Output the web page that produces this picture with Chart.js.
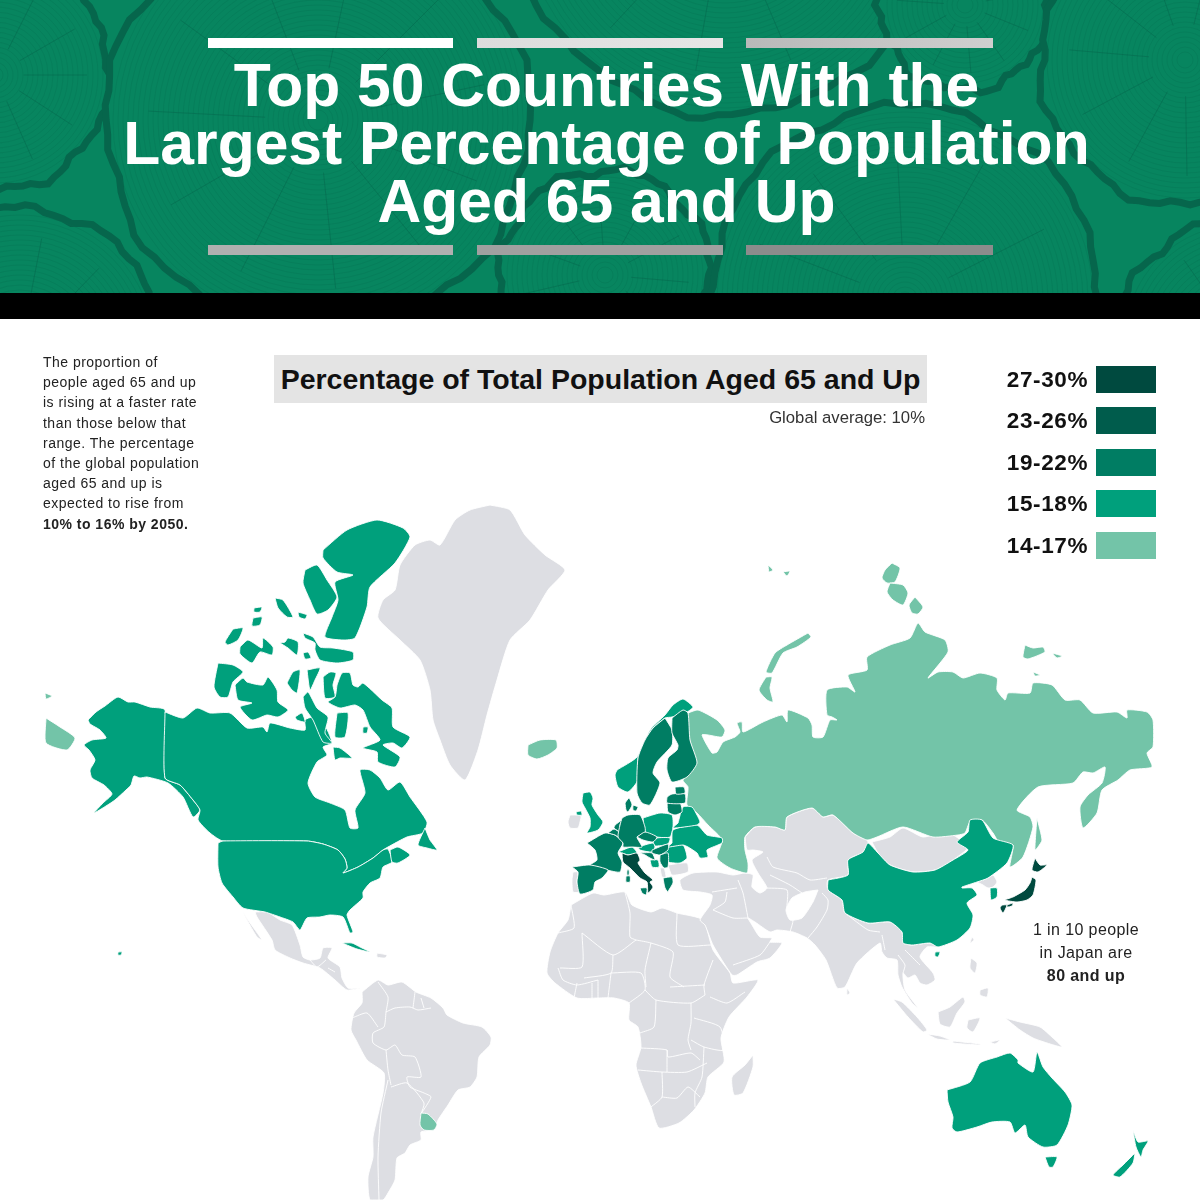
<!DOCTYPE html>
<html lang="en">
<head>
<meta charset="UTF-8">
<title>Top 50 Countries With the Largest Percentage of Population Aged 65 and Up</title>
<script src="https://cdn.jsdelivr.net/npm/chart.js@4"></script>
<style>
  * { margin: 0; padding: 0; box-sizing: border-box; }
  html, body { width: 1200px; height: 1200px; overflow: hidden; background: #fff; }
  body { position: relative; font-family: "Liberation Sans", Arial, sans-serif; color: #222; }
  #banner { position: absolute; left: 0; top: 0; width: 1200px; height: 293px; background: #07855f; overflow: hidden; }
  #banner svg { position: absolute; left: 0; top: 0; }
  #blackband { position: absolute; left: 0; top: 293px; width: 1200px; height: 26px; background: #000; }
  .bar { position: absolute; height: 10px; }
  h1 { position: absolute; left: 0; top: 56px; width: 1213px; text-align: center; color: #fff;
       font-size: 60.6px; line-height: 58px; font-weight: 700; }
  #mapwrap { position: absolute; left: 0; top: 319px; width: 1200px; height: 881px; }
  #note { position: absolute; left: 43px; top: 352px; font-size: 14px; line-height: 20.2px; letter-spacing: .48px; white-space: nowrap; }
  #maptitle { position: absolute; left: 274px; top: 355px; width: 653px; height: 48px; background: #e4e4e4;
              font-size: 28.5px; font-weight: 700; line-height: 49px; text-align: center; white-space: nowrap; color: #111; }
  #avg { position: absolute; right: 275px; top: 408px; font-size: 16.7px; line-height: 20px; color: #333; }
  .lg-label { position: absolute; width: 100px; left: 988px; text-align: right; font-size: 22.5px; letter-spacing: .6px; font-weight: 700; line-height: 27px; color: #111; }
  .lg-box { position: absolute; left: 1096px; width: 60px; height: 27px; }
  #japan { position: absolute; left: 1000px; width: 172px; top: 918px; text-align: center; font-size: 16px; line-height: 23px; letter-spacing: .4px; color: #222; }
</style>
</head>
<body>
<div id="banner"><svg id="rings" width="1200" height="293"></svg>
  <div class="bar" style="left:208px;top:38px;width:245px;background:#fff"></div>
  <div class="bar" style="left:477px;top:38px;width:246px;background:linear-gradient(90deg,#dcdcdc,#e6e6e6)"></div>
  <div class="bar" style="left:746px;top:38px;width:247px;background:linear-gradient(90deg,#b9b9b9,#cfcfcf)"></div>
  <div class="bar" style="left:208px;top:245px;width:245px;background:#b0b0b0"></div>
  <div class="bar" style="left:477px;top:245px;width:246px;background:#a0a0a0"></div>
  <div class="bar" style="left:746px;top:245px;width:247px;background:#8c8c8c"></div>
  <h1>Top 50 Countries With the<br>Largest Percentage of Population<br>Aged 65 and Up</h1>
</div>
<div id="blackband"></div>
<div id="mapwrap"><canvas id="map" width="1200" height="881"></canvas></div>
<div id="note">The proportion of<br>people aged 65 and up<br>is rising at a faster rate<br>than those below that<br>range. The percentage<br>of the global population<br>aged 65 and up is<br>expected to rise from<br><b>10% to 16% by 2050.</b></div>
<div id="maptitle">Percentage of Total Population Aged 65 and Up</div>
<div id="avg">Global average: 10%</div>
<div id="legend"></div>
<div id="japan">1 in 10 people<br>in Japan are<br><b>80 and up</b></div>

<script>
// Legend bands
const bandLabels = ['27-30%', '23-26%', '19-22%', '15-18%', '14-17%'];
const bandColors = ['#004a3f', '#005c4c', '#007d63', '#00a07c', '#73c4a8'];
const noDataColor = '#dddee3';

// Outlines, as x,y pairs in map units
const alaska = [88,720,96,712,105,706,118,697,128,702,135,702,150,707,165,710,165,778,180,785,193,800,200,810,193,817,183,797,168,783,147,777,140,778,134,776,131,785,126,790,115,800,106,806,94,813,103,803,112,794,104,785,92,778,90,770,95,760,89,750,84,745,92,740,106,738,100,730,90,724];
const canada = [165,712,183,718,197,708,210,713,230,713,247,728,263,727,267,732,270,723,290,728,305,730,305,720,313,717,323,722,332,743,323,747,327,755,317,762,308,783,315,797,330,803,345,810,350,828,358,828,355,810,365,793,360,770,370,770,380,778,388,790,400,782,410,797,427,822,423,833,407,837,388,847,383,850,373,858,358,867,343,873,347,868,345,859,338,850,323,844,307,841,223,841,210,833,198,820,200,810,193,800,180,785,165,778];
const usa = [218,843,223,841,307,841,323,844,338,850,345,859,347,868,343,873,358,867,373,858,383,850,388,849,392,862,383,867,380,878,370,883,363,892,363,898,350,910,347,915,353,932,350,933,343,917,330,915,320,917,307,918,300,930,293,922,280,917,265,912,243,908,233,897,222,883,218,867];
const maritimes = [390,850,398,847,410,855,398,863,392,862];
const newfoundland = [425,828,430,840,437,850,427,848,418,845];
const ellesmere = [323,550,347,530,377,520,403,528,410,537,395,563,370,587,367,607,355,638,343,640,325,637,332,617,338,600,335,582,353,575,337,572,323,558];
const axelHeiberg = [305,570,317,565,327,580,337,597,328,610,317,614,310,600,303,583];
const arctic1 = [275,598,283,600,293,617,287,617,278,608];
const arctic2 = [298,612,307,615,305,619,299,617];
const arctic3 = [254,608,262,607,260,612,254,612];
const arctic4 = [253,618,262,617,260,625,252,626];
const arctic5 = [233,629,243,628,238,640,228,645,225,642];
const melville = [240,647,248,640,262,648,263,638,273,647,272,655,260,652,252,663,240,654];
const bathurst = [280,643,285,642,288,638,298,642,297,655,288,648];
const devon = [303,633,313,637,320,647,333,648,353,652,353,660,337,663,320,660,315,650,315,643,305,638];
const arctic6 = [303,653,308,652,311,658,305,659];
const banks = [218,663,233,665,243,672,233,682,228,697,220,697,214,687];
const victoria = [235,685,243,678,247,682,263,685,268,677,277,690,278,702,288,710,278,717,267,715,252,720,240,707,252,703,238,700];
const princeWales = [287,683,293,672,300,670,297,693,292,690];
const somerset = [307,670,320,668,315,680,310,690];
const boothia = [303,697,308,692,317,708,328,717,325,733,332,743,323,742,313,720,305,708];
const arctic7 = [295,717,302,713,305,722,297,720];
const brodeur = [323,677,330,672,336,673,333,685,335,697,325,698];
const baffin = [337,685,342,673,350,673,353,685,358,687,363,683,382,700,392,708,393,727,410,737,402,748,393,743,383,745,400,757,395,767,378,762,377,752,363,748,380,740,370,727,363,710,355,705,340,708,328,702,335,697];
const melvillePen = [337,713,348,713,345,737,335,737];
const princeCharles = [363,727,368,727,367,733,363,733];
const southampton = [333,747,340,748,352,758,340,758,335,760];
const cuba = [342,943,352,943,360,947,370,952,357,949];
const hawaii = [118,952,122,952,121,955,118,955];
const norway = [617,770,637,757,650,730,665,715,673,705,683,699,693,707,687,712,672,717,665,718,653,728,645,740,638,758,638,780,628,792,618,787,615,775];
const sweden = [665,718,672,730,672,745,657,762,653,773,660,783,650,805,642,803,637,793,638,758,645,740,653,728];
const finland = [672,718,683,710,688,713,690,740,697,763,687,777,672,782,667,770,668,758,677,750,678,745,672,733];
const denmark = [625,803,629,798,632,805,628,812,626,810];
const zealand = [633,805,638,807,636,811,633,810];
const britain = [583,793,590,792,593,798,592,805,598,815,603,822,598,830,587,833,590,827,590,818,585,808,582,802];
const northIreland = [576,812,581,811,582,815,577,815];
const ireland = [570,815,576,815,581,816,580,822,578,828,570,828,568,822];
const france = [587,843,605,833,615,835,623,843,618,853,622,862,620,872,607,870,597,867,590,865,597,860,595,850];
const spain = [572,867,590,865,608,870,602,878,595,882,593,890,580,894,577,882,578,872];
const portugal = [573,872,578,872,577,882,579,892,573,892,572,880];
const netherlands = [615,825,622,820,620,825,620,832,614,828];
const belgium = [608,833,614,829,620,833,620,838,615,835];
const germany = [622,818,628,815,640,815,645,827,645,833,637,837,642,847,632,847,623,847,623,843,618,837,620,825];
const poland = [643,818,660,813,672,815,673,827,670,837,657,837,645,832];
const czechia = [637,837,645,832,657,837,653,842,643,840];
const slovakia = [653,842,657,838,670,838,668,844,655,846];
const austria = [638,847,653,843,655,847,652,852,640,850];
const switzerland = [618,852,632,847,637,853,628,855,622,853];
const hungary = [652,850,668,844,668,850,660,855,652,853];
const italy = [622,853,628,855,637,853,640,860,638,863,645,873,653,880,650,882,653,887,648,893,647,882,640,878,630,868,623,862];
const sicily = [640,888,647,888,646,895,642,893];
const sardinia = [626,876,630,876,630,882,626,882];
const corsica = [627,870,629,870,629,875,627,875];
const croatia = [640,853,652,853,655,860,650,858,645,855];
const bosnia = [650,860,658,860,659,867,652,867];
const serbia = [660,855,668,853,668,867,664,868,660,862];
const romania = [668,847,683,845,687,858,680,863,668,862,663,855];
const bulgaria = [668,865,687,863,688,872,672,875];
const albania = [660,868,664,868,666,877,662,877];
const greece = [663,878,672,877,673,883,668,892,670,895,665,888];
const ukraine = [672,843,673,830,697,825,707,835,722,838,722,843,707,850,708,857,700,858,697,853,688,847,683,845,668,847];
const belarus = [678,823,683,807,692,807,697,815,700,822,697,825,673,828];
const lithuania = [667,803,680,803,682,812,675,815,668,812];
const latvia = [667,797,672,794,685,794,685,803,667,803];
const estonia = [675,787,684,787,685,793,676,794];
const iceland = [528,745,540,740,556,740,557,748,548,755,537,759,528,755];
const russia = [688,713,698,710,717,720,725,730,722,737,708,735,702,735,712,753,717,752,723,742,735,737,740,732,737,723,742,722,743,732,763,722,782,715,787,722,788,710,808,718,812,725,813,737,823,737,830,720,837,720,832,717,827,715,827,690,847,687,855,692,848,675,867,670,867,657,890,645,910,638,918,623,925,632,945,640,948,652,928,678,938,672,953,672,963,678,980,673,997,678,997,690,1005,700,1008,693,1030,693,1033,683,1052,685,1065,700,1080,700,1093,713,1117,712,1127,718,1127,710,1147,712,1153,720,1153,747,1147,753,1152,767,1130,770,1118,780,1102,790,1097,813,1083,828,1080,807,1088,795,1102,783,1105,767,1093,773,1083,772,1073,783,1038,787,1017,810,1030,817,1033,827,1023,857,1010,867,1013,845,1002,847,993,833,982,820,970,822,965,833,958,835,933,837,903,827,877,837,867,840,853,833,833,815,823,817,812,808,787,817,785,830,775,827,755,827,745,837,745,850,748,863,747,873,730,868,717,858,722,840,708,825,697,813,687,805,688,787,683,780,695,763,688,733];
const sakhalin = [1037,818,1042,840,1038,847,1035,850,1036,830];
const novayaNorth = [808,633,811,637,797,647,783,653,772,673,766,672,775,653,787,645];
const novayaSouth = [766,677,772,677,770,688,773,702,767,700,759,690];
const northIsle1 = [768,565,773,570,769,572];
const northIsle2 = [783,572,790,571,787,576];
const severnaya1 = [892,563,900,568,895,582,887,583,882,578,885,570];
const severnaya2 = [890,583,903,585,908,593,903,605,893,600,887,592];
const severnaya3 = [915,597,923,607,918,614,912,613,909,605];
const siberian1 = [1025,645,1033,648,1043,647,1045,652,1028,659,1023,657];
const siberian2 = [1052,653,1062,656,1057,658];
const siberian3 = [1033,672,1040,675,1035,676];
const chukotka = [46,718,60,727,75,738,67,750,46,743];
const wrangel = [45,693,52,696,46,699];
const china = [828,880,848,875,848,860,863,852,868,843,878,853,890,865,913,872,935,870,953,860,968,850,957,842,968,832,970,820,982,820,993,838,1013,845,1007,863,988,878,977,882,962,887,962,888,972,888,977,895,967,903,973,915,970,928,957,940,938,947,930,943,912,945,903,943,902,932,890,922,868,923,845,913,842,900,828,890];
const hainan = [935,952,940,952,938,957,935,956];
const northKorea = [977,882,988,878,993,875,997,882,993,887,988,888,983,885];
const southKorea = [990,888,997,888,997,897,991,900];
const hokkaido = [1035,858,1040,865,1047,865,1038,872,1032,870];
const honshu = [1032,877,1036,880,1033,895,1027,900,1017,902,1005,900,1013,897,1025,890,1030,883];
const kyushu = [1002,905,1007,905,1003,913,1000,908];
const shikoku = [1007,905,1013,903,1012,906,1007,907];
const australia = [947,1090,970,1082,980,1063,997,1057,1010,1053,1018,1060,1018,1063,1033,1072,1037,1052,1043,1067,1052,1078,1065,1092,1072,1105,1068,1125,1057,1145,1043,1147,1028,1137,1025,1125,1015,1133,1010,1122,992,1122,977,1127,957,1132,952,1128,953,1117,948,1102];
const tasmania = [1045,1157,1057,1157,1053,1167,1049,1167];
const nzNorth = [1133,1130,1138,1142,1148,1141,1143,1150,1141,1157,1136,1147];
const nzSouth = [1135,1153,1133,1163,1120,1177,1113,1175,1123,1165];
const uruguay = [421,1113,428,1114,437,1124,434,1130,424,1130,420,1125];

// No-data land
const greenland = [490,505,510,510,525,535,545,555,565,570,548,590,530,620,510,640,497,680,487,715,478,750,465,780,450,765,440,740,433,720,430,690,420,660,400,640,378,618,383,600,395,590,400,565,415,545,430,540,440,545,455,520,470,510];
const mexico = [255,912,267,912,280,920,292,925,300,945,303,957,310,960,320,958,323,948,332,948,328,958,340,967,342,978,348,988,360,988,347,990,335,980,320,968,303,963,290,958,275,950,272,940,257,917];
const baja = [242,910,248,920,262,940,257,937,247,920];
const hispaniola = [377,953,387,955,385,958,377,957];
const southAmerica = [362,992,378,980,388,985,402,982,416,992,431,998,443,1008,447,1015,463,1023,482,1027,491,1037,490,1045,479,1057,477,1077,470,1087,458,1090,448,1105,438,1120,434,1130,421,1132,421,1140,410,1145,405,1153,397,1158,395,1180,388,1193,383,1200,370,1200,368,1177,373,1157,373,1137,383,1093,384,1073,367,1060,356,1040,351,1030,354,1013,362,1003];
const africa = [571,905,593,893,604,895,625,892,632,905,651,912,662,908,677,913,703,920,713,950,730,973,733,983,758,980,747,997,729,1017,721,1038,724,1062,708,1077,705,1093,694,1110,679,1123,659,1128,651,1107,641,1083,636,1065,641,1047,638,1027,629,1020,629,1003,614,998,598,998,577,998,555,983,547,973,550,952,558,933,568,920];
const madagascar = [753,1055,753,1067,743,1093,734,1095,732,1077,745,1065];
const asia = [745,837,755,827,775,827,785,830,787,817,812,808,823,817,833,815,853,833,867,840,868,843,863,852,848,860,848,875,828,880,828,890,842,900,845,913,868,923,890,922,902,932,903,943,912,945,930,943,938,947,927,947,920,957,933,973,935,980,927,985,920,983,915,975,908,978,903,973,905,990,918,1008,912,1003,902,987,898,975,897,960,887,958,882,952,880,943,857,963,845,987,837,988,826,960,815,945,807,938,793,932,777,930,770,932,755,922,748,918,752,925,760,937,772,938,770,942,782,943,770,958,757,962,737,975,732,975,713,945,705,925,700,920,710,905,712,895,700,892,683,890,680,880,693,873,717,872,733,875,745,873,753,875,752,887,760,893,767,888,758,873,752,860,763,852,753,850,747,850];
const mongolia = [872,842,890,837,903,828,923,837,947,832,968,847,953,860,935,870,913,872,890,865,878,853];
const sumatra = [893,999,902,1002,917,1017,927,1030,923,1032,908,1017];
const java = [927,1034,940,1036,950,1040,937,1039];
const borneo = [938,1012,950,1007,963,997,965,1002,957,1013,950,1027,940,1024];
const sulawesi = [968,1020,980,1018,973,1032,967,1028];
const newGuinea = [1005,1018,1020,1022,1040,1027,1053,1038,1062,1047,1047,1043,1033,1038,1020,1030];
const luzon = [971,958,977,963,975,973,970,968];
const mindanao = [980,990,988,988,987,997,980,995];
const taiwan = [972,937,974,940,970,943];
const sriLanka = [847,988,850,993,847,995];
const sunda = [953,1041,980,1044,980,1045,953,1043];
const timor = [990,1042,1000,1040,995,1044];
// Afghanistan is left blank in the picture
const afghanistan = [818,890,813,902,802,918,790,920,786,910,792,898,805,892];

// Which land falls in which band (index into bandLabels)
const band27to30 = [italy, hokkaido, honshu, kyushu, shikoku];
const band23to26 = [];
const band19to22 = [sweden, finland, denmark, zealand, france, spain, netherlands, belgium, germany, czechia, hungary, sicily, sardinia, corsica, croatia, serbia, greece, lithuania, latvia, estonia];
const band15to18 = [alaska, canada, usa, maritimes, newfoundland, ellesmere, axelHeiberg, arctic1, arctic2, arctic3, arctic4, arctic5, melville, bathurst, devon, arctic6, banks, victoria, princeWales, somerset, boothia, arctic7, brodeur, baffin, melvillePen, princeCharles, southampton, cuba, hawaii, norway, britain, northIreland, poland, slovakia, austria, switzerland, bosnia, romania, ukraine, belarus, china, hainan, southKorea, australia, tasmania, nzNorth, nzSouth];
const band14to17 = [russia, sakhalin, novayaNorth, novayaSouth, northIsle1, northIsle2, severnaya1, severnaya2, severnaya3, siberian1, siberian2, siberian3, chukotka, wrangel, iceland, uruguay];
const noDataLand = [greenland, mexico, baja, hispaniola, southAmerica, africa, madagascar, asia, mongolia, sumatra, java, borneo, sulawesi, newGuinea, luzon, mindanao, taiwan, sriLanka, sunda, timor, ireland, portugal, bulgaria, albania, northKorea];

// Country borders inside the no-data landmasses
const borderLines = [
  [378,982,388,997,386,1012,384,1027,373,1033,373,1043,386,1050,395,1045,402,1055,415,1057,421,1077,407,1077,410,1087,424,1093,431,1097,421,1114],
  [386,1012,395,1008,410,1007,418,1010,431,1008],[415,992,413,1008],[421,998,424,1008],
  [352,1018,367,1013,378,1027],[386,1050,388,1070,391,1085],[388,1080,381,1113,378,1157,379,1200],
  [391,1087,407,1083,424,1103,421,1114],
  [571,905,574,928,558,933],[625,892,630,913,630,937,636,940],[582,933,613,955,636,940],[582,933,582,967,560,968],
  [677,913,678,945,711,945],[636,940,651,943,673,952,670,977,684,987],[651,943,645,970,646,987],
  [613,955,611,973,584,978],[611,973,641,973,645,990,629,1003],[611,973,608,998],[598,980,598,998],[592,983,592,998],[577,983,574,998],
  [558,968,563,980,577,985,598,980],[645,990,656,1000,691,1003,705,995],[670,987,705,985],[713,960,704,985,705,995],
  [710,997,727,1003,745,992],[691,1003,691,1023,688,1040,691,1050],[694,1018,720,1027,724,1050,704,1047,691,1040],
  [656,1000,654,1027,640,1033],[641,1048,667,1050,668,1057,691,1053,700,1060],[638,1070,662,1072,687,1072,707,1063],[667,1050,667,1072],
  [662,1072,662,1097,651,1107],[662,1097,677,1098,688,1087,700,1097],[704,1047,702,1077,695,1093,695,1107],
  [767,857,773,867,797,873,810,880,827,878],[770,875,790,885,802,893],[767,888,787,890,787,910,793,920,790,932],
  [738,880,743,893,748,918],[712,892,737,888],[727,892,725,902,713,910],[713,910,733,918,748,918],[733,965,760,955,770,942],
  [808,938,817,927,827,910,828,900,822,893],[845,913,868,930,880,932],[882,935,885,950],[898,955,905,965,903,973],[905,950,920,965],
  [310,960,317,967,326,960],[328,968,335,972]
];

function toPoints(flat) {
  const pts = [];
  for (let i = 0; i < flat.length; i += 2) pts.push({ x: flat[i], y: flat[i + 1] });
  pts.push({ x: flat[0], y: flat[1] });
  return pts;
}

// A little tension rounds the outlines and keeps the library off its fast path,
// which drops points sharing an x pixel
const lineStyle = { showLine: true, borderColor: '#ffffff', borderWidth: 0.9, pointRadius: 0, tension: 0.2 };

function landDatasets(list, color) {
  return list.map(outline => ({ ...lineStyle, data: toPoints(outline), fill: 'shape', backgroundColor: color }));
}

const layers = [
  ...landDatasets(noDataLand, noDataColor),
  ...landDatasets([afghanistan], '#ffffff'),
  ...borderLines.map(line => ({ ...lineStyle, data: toPoints(line).slice(0, -1), fill: false })),
  ...landDatasets(band14to17, bandColors[4]),
  ...landDatasets(band15to18, bandColors[3]),
  ...landDatasets(band19to22, bandColors[2]),
  ...landDatasets(band23to26, bandColors[1]),
  ...landDatasets(band27to30, bandColors[0])
];
// Chart.js paints the first dataset last, so the bottom layer goes at the end
const datasets = layers.reverse();

new Chart(document.getElementById('map'), {
  type: 'scatter',
  data: { datasets },
  options: {
    responsive: false,
    animation: false,
    devicePixelRatio: 1,
    layout: { padding: 0 },
    plugins: { legend: { display: false }, tooltip: { enabled: false }, title: { display: false } },
    scales: {
      x: { type: 'linear', min: 0, max: 1200, display: false },
      y: { type: 'linear', min: 319, max: 1200, reverse: true, display: false }
    }
  }
});

// Legend on the right
const legendTops = [366, 407, 449, 490, 532];
document.getElementById('legend').innerHTML = bandLabels.map((label, i) =>
  `<div class="lg-label" style="top:${legendTops[i]}px">${label}</div>` +
  `<div class="lg-box" style="top:${legendTops[i]}px;background:${bandColors[i]}"></div>`
).join('');

// Tree ring pattern behind the title
const stumps = [[-5,75,115],[20,350,142],[725,-95,210],[318,120,212],[605,275,105],[965,5,85],[905,300,195],[1185,60,145],[1240,340,122]];
let svg = '';
stumps.forEach(([cx, cy, r], s) => {
  let d = '';
  for (let a = 0; a < 90; a++) {
    const t = a / 90 * Math.PI * 2;
    const w = r + 3 * Math.sin(t * 7 + s) + 2 * Math.sin(t * 13 + s * 2) + 1.5 * Math.sin(t * 29 + s);
    d += (a ? 'L' : 'M') + (cx + w * Math.cos(t)).toFixed(1) + ' ' + (cy + w * Math.sin(t)).toFixed(1);
  }
  svg += `<path d="${d}Z" fill="#07855f" stroke="#06664c" stroke-width="7"/>`;
  for (let q = r - 7; q > 6; q -= 5) {
    svg += `<circle cx="${cx}" cy="${cy}" r="${q}" fill="none" stroke="#06704f" stroke-width="0.6" opacity="0.5"/>`;
  }
  for (let k = 0; k < 11; k++) {
    const t = (k * 33 + s * 17) / 180 * Math.PI;
    const x1 = cx + r * .25 * Math.cos(t), y1 = cy + r * .25 * Math.sin(t);
    const x2 = cx + r * .8 * Math.cos(t), y2 = cy + r * .8 * Math.sin(t);
    svg += `<line x1="${x1.toFixed(1)}" y1="${y1.toFixed(1)}" x2="${x2.toFixed(1)}" y2="${y2.toFixed(1)}" stroke="#06664c" stroke-width="0.8" opacity="0.6"/>`;
  }
});
document.getElementById('rings').innerHTML = svg;
</script>
</body>
</html>
